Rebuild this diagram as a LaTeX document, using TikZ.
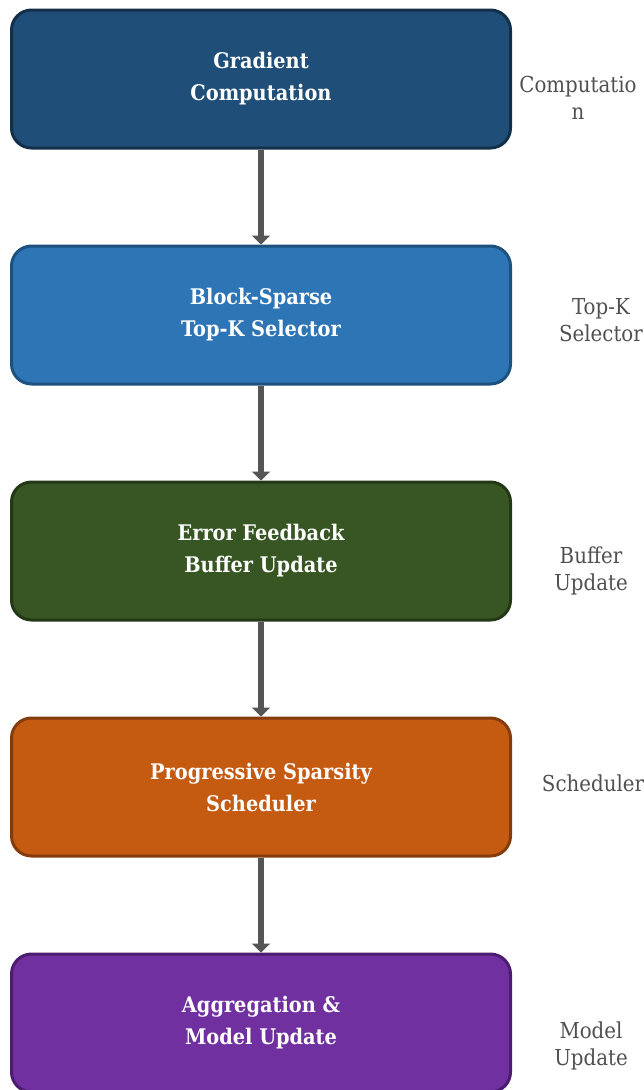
\documentclass[tikz,border=0pt]{standalone}
\usepackage{fontspec}
\setmainfont{DejaVu Serif Condensed}
\usetikzlibrary{arrows.meta}
\usetikzlibrary{positioning}

\definecolor{gradfill}{HTML}{1F4E79}
\definecolor{gradline}{HTML}{132F4A}
\definecolor{topkfill}{HTML}{2E75B6}
\definecolor{topkline}{HTML}{1D5180}
\definecolor{errfill}{HTML}{375623}
\definecolor{errline}{HTML}{223816}
\definecolor{schedfill}{HTML}{C55A11}
\definecolor{schedline}{HTML}{843C0C}
\definecolor{aggfill}{HTML}{7030A0}
\definecolor{aggline}{HTML}{4B1C70}
\definecolor{arrowgray}{HTML}{555555}
\definecolor{sidegray}{HTML}{505050}

\begin{document}
\begin{tikzpicture}[x=1pt,y=-1pt,
    stage/.style={rounded corners=20pt, line width=3pt, minimum width=499pt,
      minimum height=138pt, align=center, text=white,
      font=\fontsize{21.5}{32}\selectfont\bfseries},
    side/.style={align=center, text=sidegray, font=\fontsize{22}{27.5}\selectfont},
    flow/.style={draw=arrowgray, line width=6.5pt, -{Triangle[width=18pt,length=9pt]}}]
    \clip (0,0) rectangle (644,1090);
    \useasboundingbox (0,0) rectangle (644,1090);

    \node[stage, fill=gradfill, draw=gradline] (gradient) at (261,79) {Gradient\\Computation};
    \node[stage, fill=topkfill, draw=topkline] (topk) at (261,315) {Block-Sparse\\Top-K Selector};
    \node[stage, fill=errfill, draw=errline] (feedback) at (261,551) {Error Feedback\\Buffer Update};
    \node[stage, fill=schedfill, draw=schedline] (scheduler) at (261,787) {Progressive Sparsity\\Scheduler};
    \node[stage, fill=aggfill, draw=aggline] (aggregation) at (261,1023) {Aggregation \&\\Model Update};

    \node[side] (gradient-tag) at (578,98) {Computatio\\n};
    \node[side] (topk-tag) at (601,320) {Top-K\\Selector};
    \node[side] (feedback-tag) at (591,571) {Buffer\\Update};
    \node[side] (scheduler-tag) at (593,783) {Scheduler};
    \node[side] (aggregation-tag) at (591,1046) {Model\\Update};

    \draw[flow] (gradient) -- (topk);
    \draw[flow] (topk) -- (feedback);
    \draw[flow] (feedback) -- (scheduler);
    \draw[flow] (scheduler) -- (aggregation);
  \end{tikzpicture}
\end{document}
